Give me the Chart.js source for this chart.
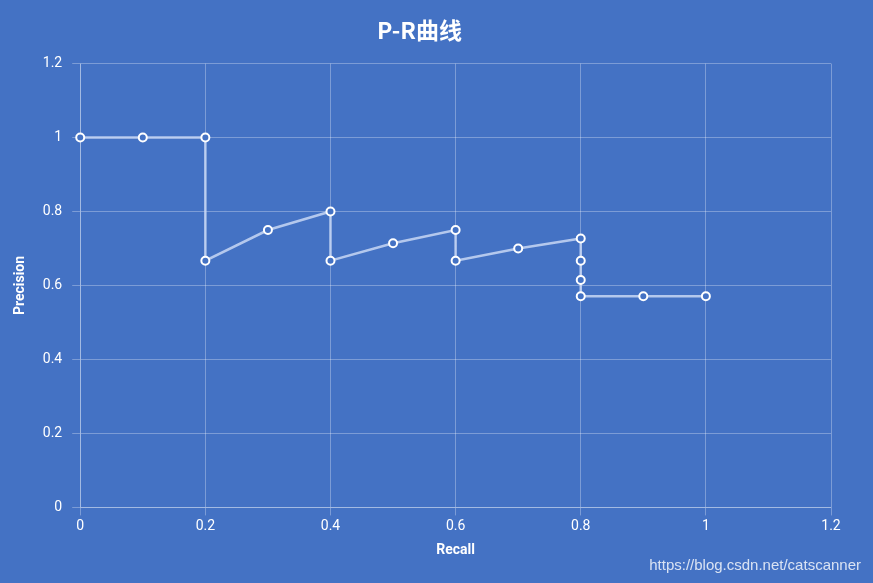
<!DOCTYPE html>
<html>
<head>
<meta charset="utf-8">
<script src="https://cdn.jsdelivr.net/npm/chart.js@4"></script>
<style>
  body { margin: 0; background: #4472c4; }
  #wrap { position: relative; width: 873px; height: 583px; background: #4472c4; }
  #mark { position: absolute; right: 12px; bottom: 10px; color: rgba(255,255,255,0.8);
          font: 15px "Liberation Sans", Arial, sans-serif; }
</style>
</head>
<body>
<div id="wrap">
  <canvas id="prChart" width="873" height="583"></canvas>
  <div id="mark">https://blog.csdn.net/catscanner</div>
</div>
<script>
let recall = [0, 0.1, 0.2, 0.2, 0.3, 0.4, 0.4, 0.5, 0.6, 0.6, 0.7, 0.8, 0.8, 0.8, 0.8, 0.9, 1];
let precision = [1, 1, 1, 0.667, 0.75, 0.8, 0.667, 0.714, 0.75, 0.667, 0.7, 0.727, 0.667, 0.615, 0.571, 0.571, 0.571];

let points = recall.map((r, i) => ({ x: r, y: precision[i] }));
let font = { family: "Roboto, 'Noto Sans', sans-serif", size: 14 };
let grid = { color: "rgba(255,255,255,0.3)" };
let fmt = v => String(Math.round(v * 10) / 10);

let ctx = document.getElementById("prChart").getContext("2d");
let prChart = new Chart(ctx, {
  type: "scatter",
  data: {
    datasets: [
      {
        label: "P-R",
        data: points,
        showLine: true,
        clip: false,
        borderColor: "rgba(200,215,245,0.85)",
        borderWidth: 2.5,
        pointBackgroundColor: "#4472c4",
        pointBorderColor: "#ffffff",
        pointBorderWidth: 2,
        pointRadius: 4
      }
    ]
  },
  options: {
    responsive: false,
    animation: false,
    layout: { padding: { left: 8, right: 42, top: 8, bottom: 20 } },
    plugins: {
      legend: { display: false },
      title: {
        display: true,
        text: "P-R曲线",
        color: "#ffffff",
        font: { family: "'Noto Sans CJK SC', sans-serif", size: 23, weight: "bold" },
        padding: { top: 8, bottom: 20 }
      }
    },
    scales: {
      x: {
        min: 0, max: 1.2,
        ticks: { stepSize: 0.2, color: "#ffffff", font: font, callback: fmt },
        grid: grid,
        border: { color: "rgba(255,255,255,0.3)" },
        title: { display: true, text: "Recall", color: "#ffffff", font: { ...font, weight: "bold" } }
      },
      y: {
        min: 0, max: 1.2,
        ticks: { stepSize: 0.2, color: "#ffffff", font: font, padding: 10, callback: fmt },
        grid: grid,
        border: { color: "rgba(255,255,255,0.3)" },
        title: { display: true, text: "Precision", color: "#ffffff", font: { ...font, weight: "bold" } }
      }
    }
  }
});
</script>
</body>
</html>
